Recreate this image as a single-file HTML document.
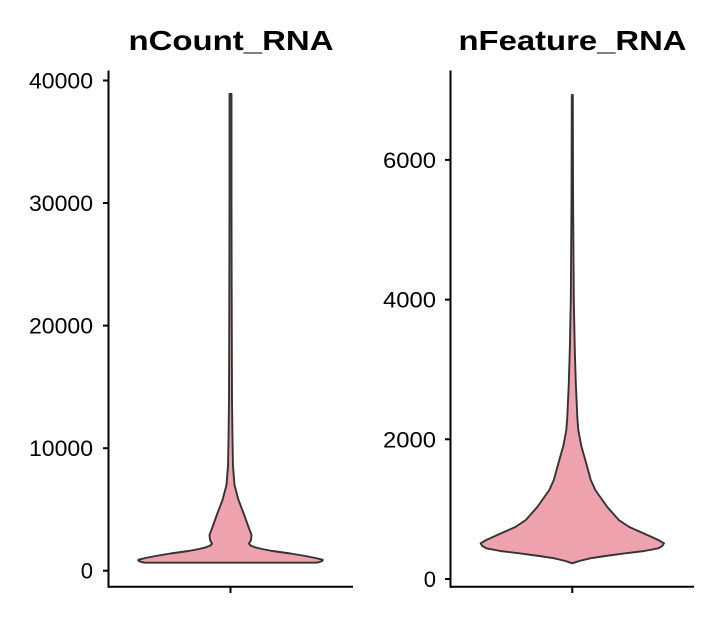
<!DOCTYPE html>
<html><head><meta charset="utf-8"><style>
html,body{margin:0;padding:0;background:#fff;}
svg{display:block;}
text{font-family:"Liberation Sans",Arial,sans-serif;fill:#000;}
</style></head><body>
<svg width="720" height="620" viewBox="0 0 720 620" xmlns="http://www.w3.org/2000/svg">
<rect width="720" height="620" fill="#fff"/>
<!-- Titles -->
<text x="231" y="50" font-size="28" font-weight="bold" text-anchor="middle" textLength="205" lengthAdjust="spacingAndGlyphs">nCount_RNA</text>
<text x="572.5" y="50" font-size="28" font-weight="bold" text-anchor="middle" textLength="228" lengthAdjust="spacingAndGlyphs">nFeature_RNA</text>

<!-- Left violin -->
<path fill="#EEA2AD" stroke="#333" stroke-width="1.9" stroke-linejoin="round" d="
M230.5,94
L231.5,94 L231.5,200 L231.7,300 L232,400 L232.5,440 L233,466 L234.5,485 L238.5,500 L243.5,513 L248.5,527 L251.5,535 L251,540 L249,543.5 L250.5,545.5 L255,547.3 L262,549 L272.5,551 L290.5,553.5 L305.5,556 L315.5,558 L322.5,559.7
C324,560.5 320,562.7 314,562.7
L147,562.7
C141,562.7 137,560.5 138.5,559.7
L145.5,558 L155.5,556 L170.5,553.5 L188.5,551 L199,549 L206,547.3 L210.5,545.5 L212,543.5 L210,540 L209.5,535 L212.5,527 L217.5,513 L222.5,500 L226.5,485 L228,466 L228.5,440 L229,400 L229.3,300 L229.5,200 L229.5,94 Z"/>

<!-- Right violin -->
<path fill="#EEA2AD" stroke="#333" stroke-width="1.9" stroke-linejoin="round" d="
M571.8,95 L572.8,95 L573.1,200 L573.8,300 L574.8,350 L575.8,383 L577.3,417 L578.3,430 L581.3,446 L585.3,460 L590.8,480 L595.3,490 L607.3,507 L618.8,520 L629.3,527 L647.3,535 L658.3,540 L664,543.3 L662.3,546 L658.3,548.3 L644.3,551 L625.3,553.3 L605.3,556 L590.3,558.3 L579.3,561 L572.3,563.3
L565.3,561 L554.3,558.3 L539.3,556 L519.3,553.3 L500.3,551 L486.3,548.3 L482.3,546 L480.6,543.3 L486.3,540 L497.3,535 L515.3,527 L525.8,520 L537.3,507 L549.3,490 L553.8,480 L559.3,460 L563.3,446 L566.3,430 L567.3,417 L568.8,383 L569.8,350 L570.8,300 L571.5,200 Z"/>

<!-- Left axes -->
<g stroke="#000" stroke-width="2" fill="none">
<line x1="108.5" y1="70.5" x2="108.5" y2="587.7"/>
<line x1="107.5" y1="586.7" x2="353" y2="586.7"/>
<line x1="103" y1="80.5" x2="108.5" y2="80.5"/>
<line x1="103" y1="203" x2="108.5" y2="203"/>
<line x1="103" y1="325.6" x2="108.5" y2="325.6"/>
<line x1="103" y1="448.2" x2="108.5" y2="448.2"/>
<line x1="103" y1="570.7" x2="108.5" y2="570.7"/>
<line x1="230.5" y1="586.7" x2="230.5" y2="593"/>
</g>
<g font-size="22" text-anchor="end">
<text x="93" y="88.5" textLength="64" lengthAdjust="spacingAndGlyphs">40000</text>
<text x="93" y="211" textLength="64" lengthAdjust="spacingAndGlyphs">30000</text>
<text x="93" y="333.6" textLength="64" lengthAdjust="spacingAndGlyphs">20000</text>
<text x="93" y="456.2" textLength="64" lengthAdjust="spacingAndGlyphs">10000</text>
<text x="93" y="578.7">0</text>
</g>

<!-- Right axes -->
<g stroke="#000" stroke-width="2" fill="none">
<line x1="450.5" y1="70.5" x2="450.5" y2="587.7"/>
<line x1="449.5" y1="586.7" x2="694" y2="586.7"/>
<line x1="445" y1="159.9" x2="450.5" y2="159.9"/>
<line x1="445" y1="299.6" x2="450.5" y2="299.6"/>
<line x1="445" y1="439.3" x2="450.5" y2="439.3"/>
<line x1="445" y1="579" x2="450.5" y2="579"/>
<line x1="572.3" y1="586.7" x2="572.3" y2="593"/>
</g>
<g font-size="22" text-anchor="end">
<text x="436" y="167.9" textLength="53" lengthAdjust="spacingAndGlyphs">6000</text>
<text x="436" y="307.6" textLength="53" lengthAdjust="spacingAndGlyphs">4000</text>
<text x="436" y="447.3" textLength="53" lengthAdjust="spacingAndGlyphs">2000</text>
<text x="436" y="587">0</text>
</g>
</svg>
</body></html>
